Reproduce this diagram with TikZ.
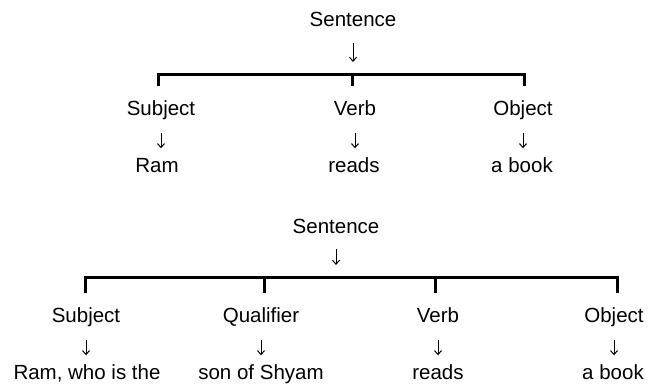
\documentclass[tikz,border=0pt]{standalone}
\usepackage{fontspec}
\setmainfont{Liberation Sans}
\usepackage{tikz}
\usepackage{color}
\usetikzlibrary{arrows.meta}

\begin{document}
\begin{tikzpicture}[x=1pt,y=1pt,
  word/.style={inner sep=0pt,anchor=base,text=cw,text height=15pt,text depth=4.5pt,font=\fontsize{20.5}{24}\selectfont},
  bar/.style={draw=cl,line width=3pt,shorten <=13.5pt,shorten >=13.5pt},
  arr/.style={draw=ca,line width=1pt,-{Straight Barb[length=4pt,width=7pt]},shorten <=13pt,shorten >=8.5pt}]
\definecolor{cw}{rgb}{0.0,0.0,0.0}
\definecolor{cl}{rgb}{0.0,0.0,0.0}
\definecolor{ca}{rgb}{0.0,0.0,0.0}
\definecolor{cbg}{rgb}{1.0,1.0,1.0}
%
\useasboundingbox[fill=cbg] (0,0) rectangle (648,384);
%
\node[word] (a0) at (353,357) {Sentence};
\node[word] (a1) at (161,269) {Subject};
\node[word] (a2) at (355,269) {Verb};
\node[word] (a3) at (523,269) {Object};
\node[word] (a4) at (157,212) {Ram};
\node[word] (a5) at (354,212) {reads};
\node[word] (a6) at (522,212) {a book};
\coordinate (ja0) at (353,309.5);
\coordinate (ja1) at (158,309.5);
\coordinate (ja2) at (352,309.5);
\coordinate (ja3) at (524,309.5);
%
\draw[bar] (ja1 |- a1.north) -- (ja1) -- (ja3) -- (ja3 |- a3.north);
\draw[bar,shorten <=0pt] (ja2) -- (ja2 |- a2.north);
\draw[arr,shorten <=11.5pt,shorten >=12.5pt] (a0.south) -- (ja0);
\draw[arr] (a1.south) -- (a1.south |- a4.north);
\draw[arr] (a2.south) -- (a2.south |- a5.north);
\draw[arr] (a3.south) -- (a3.south |- a6.north);
%
\node[word] (b0) at (336,151) {Sentence};
\node[word] (b1) at (86,62) {Subject};
\node[word] (b2) at (261,62) {Qualifier};
\node[word] (b3) at (438,62) {Verb};
\node[word] (b4) at (614,62) {Object};
\node[word] (b5) at (87,5) {Ram, who is the};
\node[word] (b6) at (261,5) {son of Shyam};
\node[word] (b7) at (438,5) {reads};
\node[word] (b8) at (613,5) {a book};
\coordinate (jb0) at (336,106.5);
\coordinate (jb1) at (85,106.5);
\coordinate (jb2) at (264,106.5);
\coordinate (jb3) at (435,106.5);
\coordinate (jb4) at (617,106.5);
%
\draw[bar] (jb1 |- b1.north) -- (jb1) -- (jb4) -- (jb4 |- b4.north);
\draw[bar,shorten <=0pt] (jb2) -- (jb2 |- b2.north);
\draw[bar,shorten <=0pt] (jb3) -- (jb3 |- b3.north);
\draw[arr,shorten <=11.5pt,shorten >=12.5pt] (b0.south) -- (jb0);
\draw[arr] (b1.south) -- (b1.south |- b5.north);
\draw[arr] (b2.south) -- (b2.south |- b6.north);
\draw[arr] (b3.south) -- (b3.south |- b7.north);
\draw[arr] (b4.south) -- (b4.south |- b8.north);
%
\end{tikzpicture}
\end{document}
